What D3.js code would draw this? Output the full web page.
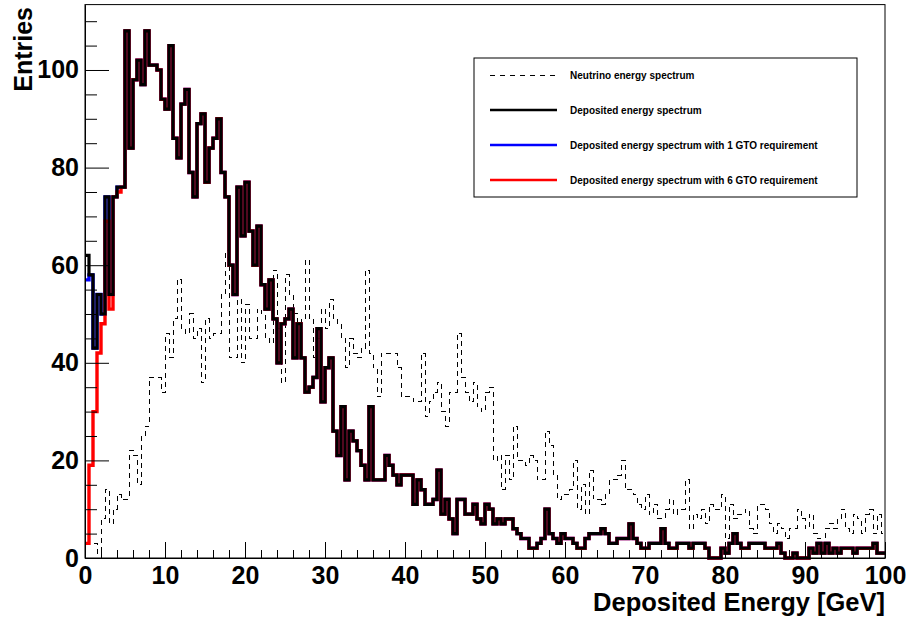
<!DOCTYPE html>
<html><head><meta charset="utf-8">
<script src="https://cdn.jsdelivr.net/npm/d3@7"></script>
<style>
html,body{margin:0;padding:0;background:#fff;}
svg{display:block;}
text{font-family:"Liberation Sans",Arial,Helvetica,sans-serif;font-weight:bold;}
</style></head><body>
<svg id="c" width="912" height="621"></svg>
<script>
// ---- data ----
const xRange = [0, 100];
const binWidth = 0.5;
const xTickValues = [0,10,20,30,40,50,60,70,80,90,100];
const xTickLabels = ["0","10","20","30","40","50","60","70","80","90","100"];
const yTickValues = [0,20,40,60,80,100];
const yTickLabels = ["0","20","40","60","80","100"];
const xTitle = "Deposited Energy [GeV]";
const yTitle = "Entries";
const legendLabels = [
  "Neutrino energy spectrum",
  "Deposited energy spectrum",
  "Deposited energy spectrum with 1 GTO requirement",
  "Deposited energy spectrum with 6 GTO requirement"
];

const neutrino = [
 3,3,3,1,8,14,7,10,13,12,
 12,22,21,15,25,27,37,37,37,34,
 46,41,49,57,47,46,50,45,47,36,
 49,45,46,46,54,63,41,41,53,40,
 52,45,45,51,50,45,44,59,47,36,
 58,54,50,48,49,61,49,41,45,51,
 47,53,49,48,45,39,45,42,41,43,
 59,42,39,33,42,42,42,42,39,33,
 33,33,32,32,42,29,32,34,36,30,
 27,34,34,46,37,34,32,36,31,30,
 34,35,20,21,14,21,16,27,20,20,
 19,21,20,16,16,26,23,17,12,13,
 13,14,20,10,15,9,18,12,12,11,
 13,16,16,17,20,14,14,13,11,10,
 13,9,11,8,8,10,12,9,10,10,
 16,6,9,8,10,7,11,10,10,13,
 4,11,8,9,9,10,6,5,11,11,
 10,7,5,7,6,4,6,6,10,8,
 6,9,5,4,4,6,7,6,8,10,
 6,5,9,8,5,9,10,5,9,5
];

const deposited = [
 62,58,43,54,50,74,54,74,76,76,
 108,84,98,102,97,108,101,101,100,94,
 92,105,86,82,93,96,79,74,89,91,
 77,84,86,90,79,74,60,54,76,66,
 77,67,60,68,56,51,57,49,40,48,
 49,51,41,48,41,34,35,37,47,32,
 39,41,26,21,31,16,26,24,22,19,
 16,31,16,16,16,21,19,17,15,17,
 17,17,11,16,14,11,11,12,18,9,
 12,8,5,12,12,9,9,11,8,7,
 11,10,7,8,7,8,8,6,5,4,
 4,2,2,3,4,10,5,4,3,5,
 4,4,3,2,2,4,5,5,5,6,
 5,3,3,4,4,4,7,4,3,2,
 2,3,3,3,6,3,2,2,3,3,
 3,2,3,3,3,2,0,0,0,2,
 1,3,5,3,2,2,3,3,3,3,
 2,2,2,3,1,0,0,1,0,0,
 0,2,1,3,1,3,1,2,1,2,
 2,2,1,2,2,2,2,3,1,1
];

const deposited1GTO = [
 57,58,43,54,50,74,54,74,76,76,
 108,84,98,102,97,108,101,101,100,94,
 92,105,86,82,93,96,79,74,89,91,
 77,84,86,90,79,74,60,54,76,66,
 77,67,60,68,56,51,57,49,40,48,
 49,51,41,48,41,34,35,37,47,32,
 39,41,26,21,31,16,26,24,22,19,
 16,31,16,16,16,21,19,17,15,17,
 17,17,11,16,14,11,11,12,18,9,
 12,8,5,12,12,9,9,11,8,7,
 11,10,7,8,7,8,8,6,5,4,
 4,2,2,3,4,10,5,4,3,5,
 4,4,3,2,2,4,5,5,5,6,
 5,3,3,4,4,4,7,4,3,2,
 2,3,3,3,6,3,2,2,3,3,
 3,2,3,3,3,2,0,0,0,2,
 1,3,5,3,2,2,3,3,3,3,
 2,2,2,3,1,0,0,1,0,0,
 0,2,1,3,1,3,1,2,1,2,
 2,2,1,2,2,2,2,3,1,1
];

const deposited6GTO = [
 3,19,30,42,48,69,51,74,75,76,
 108,84,98,102,97,108,101,101,100,94,
 92,105,86,82,93,96,79,74,89,91,
 77,84,86,90,79,74,60,54,76,66,
 77,67,60,68,56,51,57,49,40,48,
 49,51,41,48,41,34,35,37,47,32,
 39,41,26,21,31,16,26,24,22,19,
 16,31,16,16,16,21,19,17,15,17,
 17,17,11,16,14,11,11,12,18,9,
 12,8,5,12,12,9,9,11,8,7,
 11,10,7,8,7,8,8,6,5,4,
 4,2,2,3,4,10,5,4,3,5,
 4,4,3,2,2,4,5,5,5,6,
 5,3,3,4,4,4,7,4,3,2,
 2,3,3,3,6,3,2,2,3,3,
 3,2,3,3,3,2,0,0,0,2,
 1,3,5,3,2,2,3,3,3,3,
 2,2,2,3,1,0,0,1,0,0,
 0,2,1,3,1,3,1,2,1,2,
 2,2,1,2,2,2,2,3,1,1
];

// ---- layout ----
const W = 912, H = 621;
const L = 85, R = 885, T = 4.6, B = 558;
const FS = 25;

const yMax = 1.05 * d3.max(deposited);
const x = d3.scaleLinear().domain(xRange).range([L, R]);
const y = d3.scaleLinear().domain([0, yMax]).range([B, T]);

const svg = d3.select("#c");
svg.append("rect").attr("width", W).attr("height", H).attr("fill", "#fff");

function histPoints(vals) {
  const pts = [];
  vals.forEach((v, i) => pts.push([xRange[0] + i * binWidth, v]));
  pts.push([xRange[1], vals[vals.length - 1]]);
  return pts;
}
const stepLine = d3.line().x(d => x(d[0])).y(d => y(d[1])).curve(d3.curveStepAfter);

const plot = svg.append("g");
plot.append("path").attr("d", stepLine(histPoints(neutrino)))
  .attr("fill", "none").attr("stroke", "#000").attr("stroke-width", 1)
  .attr("stroke-dasharray", "5,4").attr("shape-rendering", "crispEdges");
plot.append("path").attr("d", stepLine(histPoints(deposited1GTO)))
  .attr("fill", "none").attr("stroke", "#0000ff").attr("stroke-width", 3.4);
plot.append("path").attr("d", stepLine(histPoints(deposited6GTO)))
  .attr("fill", "none").attr("stroke", "#ff0000").attr("stroke-width", 3.4);
plot.append("path").attr("d", stepLine(histPoints(deposited)))
  .attr("fill", "none").attr("stroke", "#000").attr("stroke-width", 3.2);

// frame
svg.append("rect").attr("x", L).attr("y", T).attr("width", R - L).attr("height", B - T)
  .attr("fill", "none").attr("stroke", "#000").attr("stroke-width", 1);

function styleAxis(g) {
  g.attr("font-size", FS).attr("font-family", null);
  g.selectAll("text").attr("fill", "#000").style("font-weight", "bold");
  g.selectAll("line").attr("stroke", "#000");
  g.select(".domain").attr("stroke", "#000");
}

// x axis
const xMinor = d3.range(0, 101, 2).filter(v => v % 10 !== 0);
svg.append("g").attr("transform", `translate(0,${B})`)
  .call(d3.axisBottom(x).tickValues(xMinor).tickFormat("").tickSizeInner(-8).tickSizeOuter(0))
  .call(g => g.select(".domain").remove()).call(styleAxis);
svg.append("g").attr("transform", `translate(0,${B})`)
  .call(d3.axisBottom(x).tickValues(xTickValues).tickFormat((d, i) => xTickLabels[i])
    .tickSizeInner(-16).tickSizeOuter(0).tickPadding(8))
  .call(styleAxis);

// y axis
const yMinor = d3.range(5, 113, 5).filter(v => v % 20 !== 0);
svg.append("g").attr("transform", `translate(${L},0)`)
  .call(d3.axisLeft(y).tickValues(yMinor).tickFormat("").tickSizeInner(-12).tickSizeOuter(0))
  .call(g => g.select(".domain").remove()).call(styleAxis);
svg.append("g").attr("transform", `translate(${L},0)`)
  .call(d3.axisLeft(y).tickValues(yTickValues).tickFormat((d, i) => yTickLabels[i])
    .tickSizeInner(-24).tickSizeOuter(0).tickPadding(6))
  .call(styleAxis);

// titles
svg.append("text").attr("x", R).attr("y", 611).attr("text-anchor", "end")
  .attr("font-size", 25.5).text(xTitle);
svg.append("text").attr("transform", "translate(32,7) rotate(-90)").attr("text-anchor", "end")
  .attr("font-size", FS).text(yTitle);

// legend
const lg = svg.append("g");
lg.append("rect").attr("x", 474).attr("y", 58).attr("width", 383).attr("height", 139)
  .attr("fill", "#fff").attr("stroke", "#000").attr("stroke-width", 1);
const legendStyles = [
  {color: "#000", width: 1, dash: "5,5", crisp: true},
  {color: "#000", width: 2.6, dash: null, crisp: false},
  {color: "#0000ff", width: 2.6, dash: null, crisp: false},
  {color: "#ff0000", width: 2.6, dash: null, crisp: false}
];
const legendY = d3.scalePoint().domain(d3.range(legendLabels.length)).range([75, 180]);
legendLabels.forEach((lab, i) => {
  const yy = legendY(i);
  const st = legendStyles[i];
  lg.append("line").attr("x1", 490).attr("x2", 557).attr("y1", yy).attr("y2", yy)
    .attr("stroke", st.color).attr("stroke-width", st.width)
    .attr("stroke-dasharray", st.dash)
    .attr("shape-rendering", st.crisp ? "crispEdges" : null);
  lg.append("text").attr("x", 570).attr("y", yy).attr("dy", "0.35em")
    .attr("font-size", 10).text(lab);
});
</script>
</body></html>
